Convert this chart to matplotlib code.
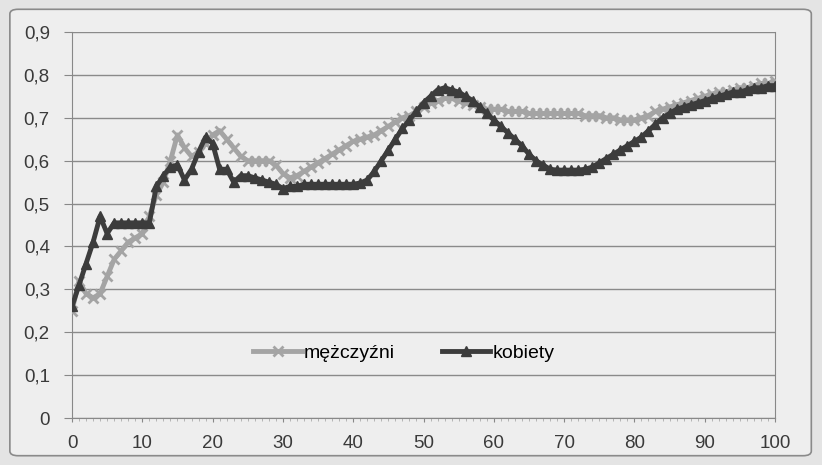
import matplotlib.pyplot as plt
from matplotlib.patches import FancyBboxPatch
from matplotlib.ticker import MultipleLocator, FuncFormatter

# wiek 0..100
wiek = list(range(101))

mezczyzni = [0.25, 0.32, 0.29, 0.28, 0.29, 0.33, 0.37, 0.39, 0.41, 0.42,
             0.43, 0.47, 0.52, 0.55, 0.60, 0.66, 0.63, 0.61, 0.62, 0.64,
             0.66, 0.67, 0.65, 0.63, 0.61, 0.60, 0.60, 0.60, 0.60, 0.59,
             0.57, 0.56, 0.565, 0.575, 0.585, 0.595, 0.605, 0.615, 0.625, 0.635,
             0.645, 0.65, 0.655, 0.66, 0.67, 0.68, 0.69, 0.70, 0.705, 0.715,
             0.725, 0.735, 0.74, 0.745, 0.745, 0.74, 0.735, 0.73, 0.725, 0.72,
             0.72, 0.72, 0.715, 0.715, 0.715, 0.71, 0.71, 0.71, 0.71, 0.71,
             0.71, 0.71, 0.71, 0.705, 0.705, 0.705, 0.70, 0.70, 0.695, 0.695,
             0.695, 0.70, 0.705, 0.715, 0.72, 0.725, 0.73, 0.735, 0.74, 0.745,
             0.75, 0.755, 0.76, 0.76, 0.765, 0.77, 0.77, 0.775, 0.78, 0.78,
             0.785]

kobiety = [0.26, 0.31, 0.36, 0.41, 0.47, 0.43, 0.455, 0.455, 0.455, 0.455,
           0.455, 0.455, 0.54, 0.565, 0.585, 0.59, 0.555, 0.58, 0.62, 0.655,
           0.64, 0.58, 0.58, 0.55, 0.565, 0.565, 0.56, 0.555, 0.55, 0.545,
           0.535, 0.54, 0.54, 0.545, 0.545, 0.545, 0.545, 0.545, 0.545, 0.545,
           0.545, 0.548, 0.555, 0.575, 0.60, 0.625, 0.65, 0.675, 0.695, 0.715,
           0.735, 0.75, 0.765, 0.77, 0.765, 0.76, 0.75, 0.74, 0.725, 0.71,
           0.695, 0.68, 0.665, 0.65, 0.635, 0.615, 0.60, 0.59, 0.58, 0.578,
           0.578, 0.578, 0.578, 0.58, 0.585, 0.595, 0.605, 0.615, 0.625, 0.635,
           0.645, 0.655, 0.67, 0.685, 0.70, 0.71, 0.72, 0.725, 0.73, 0.735,
           0.74, 0.745, 0.75, 0.755, 0.76, 0.76, 0.765, 0.77, 0.77, 0.775,
           0.775]

plt.rcParams['font.family'] = ['Liberation Sans', 'DejaVu Sans']

fig = plt.figure(figsize=(8.22, 4.65), dpi=100, facecolor='#e4e4e4')
fig.patches.append(FancyBboxPatch((0.012, 0.02), 0.975, 0.96, boxstyle='round,pad=0,rounding_size=0.01',
                                  transform=fig.transFigure, facecolor='#eeeeee',
                                  edgecolor='#8a8a8a', linewidth=1.2, zorder=-1))
ax = fig.add_axes([72 / 822, 1 - 418 / 465, (775 - 72) / 822, (418 - 32) / 465])
ax.set_facecolor('#eeeeee')

ax.plot(wiek, mezczyzni, color='#a4a4a4', lw=3.5, marker='x', ms=7.5, mew=2,
        label='mężczyźni', zorder=3)
ax.plot(wiek, kobiety, color='#3c3c3c', lw=3.5, marker='^', ms=7.5,
        label='kobiety', zorder=4)

ax.set_xlim(0, 100)
ax.set_ylim(0, 0.9)
ax.yaxis.set_major_locator(MultipleLocator(0.1))
ax.xaxis.set_major_locator(MultipleLocator(10))
ax.xaxis.set_minor_locator(MultipleLocator(1))
ax.yaxis.set_major_formatter(FuncFormatter(lambda v, p: ('%.1f' % v).replace('.', ',') if v > 0.01 else '0'))
ax.grid(axis='y', color='#8a8a8a', lw=1)
ax.set_axisbelow(True)

ax.spines['top'].set_visible(False)
for s in ['left', 'bottom', 'right']:
    ax.spines[s].set_color('#888888')
ax.tick_params(axis='y', length=6, color='#888888', labelsize=13.5, labelcolor='#3a3a3a', pad=10)
ax.tick_params(axis='x', which='major', length=3, color='#888888', labelsize=13.5, labelcolor='#3a3a3a', pad=9)
ax.tick_params(axis='x', which='minor', length=2, color='#aaaaaa')

ax.legend(loc='center', bbox_to_anchor=(0.472, 0.168), ncol=2, frameon=False,
          fontsize=14, handlelength=2.5, columnspacing=2.4, handletextpad=0.1)

fig.savefig('out.png', dpi=100, facecolor=fig.get_facecolor())
